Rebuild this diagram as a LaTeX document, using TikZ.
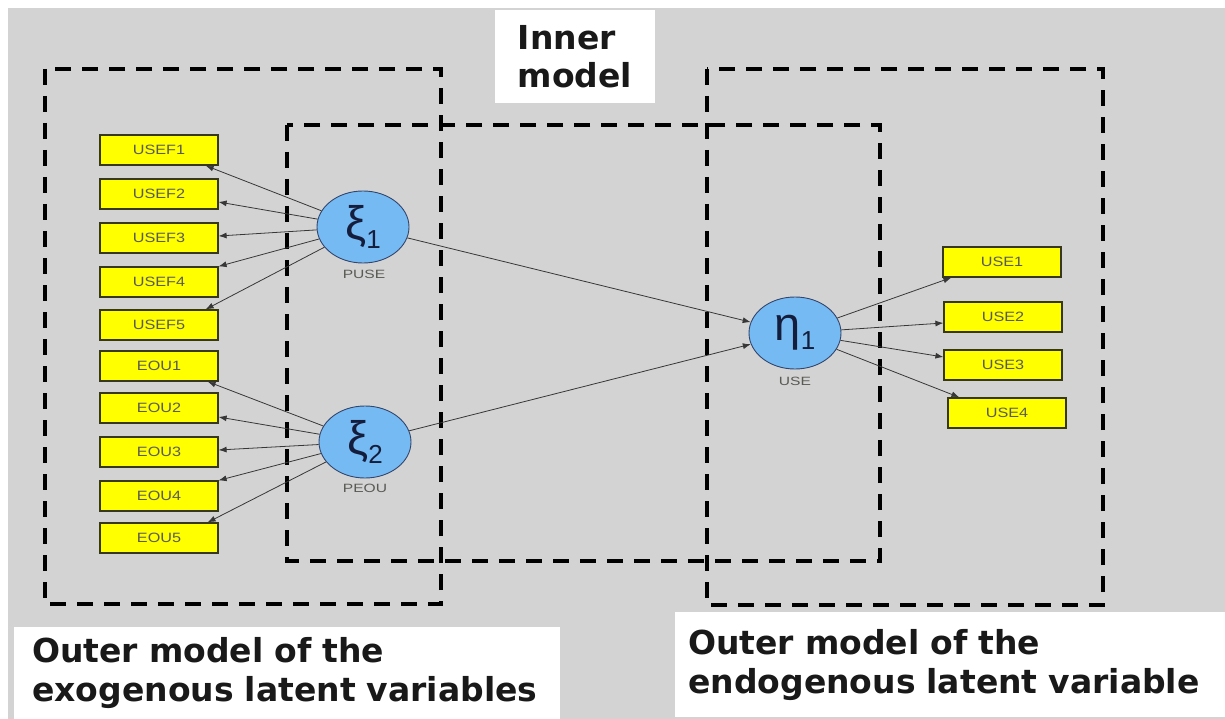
\documentclass[tikz,border=0pt]{standalone}
\usepackage{fontspec}
\setmainfont{DejaVu Sans}
\newfontfamily\labfont{Liberation Sans}
\usetikzlibrary{shapes.geometric,arrows.meta}
\definecolor{bggray}{RGB}{211,211,211}
\definecolor{indyellow}{RGB}{255,255,0}
\definecolor{boxline}{RGB}{55,55,25}
\definecolor{labgray}{RGB}{90,90,85}
\definecolor{lvblue}{RGB}{118,186,244}
\definecolor{lvline}{RGB}{50,70,110}
\definecolor{lvtext}{RGB}{20,30,60}
\definecolor{arrgray}{RGB}{55,55,55}
\newcommand{\widetxt}[2]{\scalebox{#1}[1]{#2}}
\newcommand{\lvsym}[2]{#1{\fontsize{26}{28}\selectfont\raisebox{-9pt}{#2}}}
\begin{document}
\begin{tikzpicture}[x=1pt,y=-1pt,
  ind/.style={draw=boxline, line width=1.2pt, fill=indyellow, minimum width=118pt, minimum height=30pt, inner sep=0pt, font=\labfont\fontsize{13.5}{15}\selectfont, text=labgray},
  lv/.style={ellipse, draw=lvline, line width=0.9pt, fill=lvblue, minimum width=92pt, minimum height=72pt, inner sep=0pt, font=\labfont\fontsize{47}{50}\selectfont, text=lvtext},
  lvlab/.style={font=\labfont\fontsize{12}{14}\selectfont, text=labgray, inner sep=1pt},
  arr/.style={draw=arrgray, line width=0.8pt, -{Latex[length=8pt,width=6pt]}},
  zone/.style={draw=black, line width=3.5pt, dash pattern=on 16pt off 11pt},
  capbox/.style={fill=white, align=left, inner sep=0pt, text=black!90}
]
\useasboundingbox (0,0) rectangle (1225,719);
\fill[white] (0,0) rectangle (1225,719);
\fill[bggray] (8,8) rectangle (1225,719);

% dashed zones
\draw[zone] (45,69) rectangle (441,604);
\draw[zone] (287,125) rectangle (880,561);
\draw[zone] (707,69) rectangle (1103,605);

% captions
\node[capbox, font=\fontsize{33}{38}\bfseries\selectfont, minimum width=160pt, minimum height=93pt] (inner) at (575,56.5) {Inner\\model};
\node[capbox, font=\fontsize{33}{39}\bfseries\selectfont, anchor=north west, minimum width=546pt, minimum height=92pt, text width=510pt, inner xsep=18pt] (exo) at (14,627) {Outer model of the\\exogenous latent variables};
\node[capbox, font=\fontsize{33}{39}\bfseries\selectfont, anchor=north west, minimum width=553pt, minimum height=105pt, text width=527pt, inner xsep=13pt] (endo) at (675,612) {Outer model of the\\endogenous latent variable};

% indicators left
\node[ind] (u1) at (159,150) {\widetxt{1.2}{USEF1}};
\node[ind] (u2) at (159,194) {\widetxt{1.2}{USEF2}};
\node[ind] (u3) at (159,238) {\widetxt{1.2}{USEF3}};
\node[ind] (u4) at (159,282) {\widetxt{1.2}{USEF4}};
\node[ind] (u5) at (159,325) {\widetxt{1.2}{USEF5}};
\node[ind] (e1) at (159,366) {\widetxt{1.2}{EOU1}};
\node[ind] (e2) at (159,408) {\widetxt{1.2}{EOU2}};
\node[ind] (e3) at (159,452) {\widetxt{1.2}{EOU3}};
\node[ind] (e4) at (159,496) {\widetxt{1.2}{EOU4}};
\node[ind] (e5) at (159,538) {\widetxt{1.2}{EOU5}};
% indicators right
\node[ind] (s1) at (1002,262) {\widetxt{1.2}{USE1}};
\node[ind] (s2) at (1003,317) {\widetxt{1.2}{USE2}};
\node[ind] (s3) at (1003,365) {\widetxt{1.2}{USE3}};
\node[ind] (s4) at (1007,413) {\widetxt{1.2}{USE4}};

% latent variables
\node[lv] (xi1) at (363,227) {\lvsym{ξ}{1}};
\node[lv] (xi2) at (365,442) {\lvsym{ξ}{2}};
\node[lv] (eta) at (795,333) {\lvsym{η}{1}};
\node[lvlab] (l1) at (364,274) {\widetxt{1.3}{PUSE}};
\node[lvlab] (l2) at (365,488) {\widetxt{1.3}{PEOU}};
\node[lvlab] (l3) at (795,381) {\widetxt{1.3}{USE}};

% outer arrows exogenous
\draw[arr] (xi1) -- ([xshift=-13pt]u1.south east);
\draw[arr] (xi1) -- ([yshift=-8pt]u2.east);
\draw[arr] (xi1) -- ([yshift=2pt]u3.east);
\draw[arr] (xi1) -- (u4.north east);
\draw[arr] (xi1) -- ([xshift=-13pt]u5.north east);
\draw[arr] (xi2) -- ([xshift=-11pt]e1.south east);
\draw[arr] (xi2) -- ([yshift=-9pt]e2.east);
\draw[arr] (xi2) -- ([yshift=2pt]e3.east);
\draw[arr] (xi2) -- (e4.north east);
\draw[arr] (xi2) -- ([xshift=-11pt]e5.north east);

% inner arrows
\draw[arr] (xi1) -- (eta);
\draw[arr] (xi2) -- (eta);

% outer arrows endogenous
\draw[arr] (eta) -- ([xshift=9pt]s1.south west);
\draw[arr] (eta) -- ([yshift=-6pt]s2.west);
\draw[arr] (eta) -- ([yshift=8pt]s3.west);
\draw[arr] (eta) -- ([xshift=12pt]s4.north west);
\end{tikzpicture}
\end{document}
